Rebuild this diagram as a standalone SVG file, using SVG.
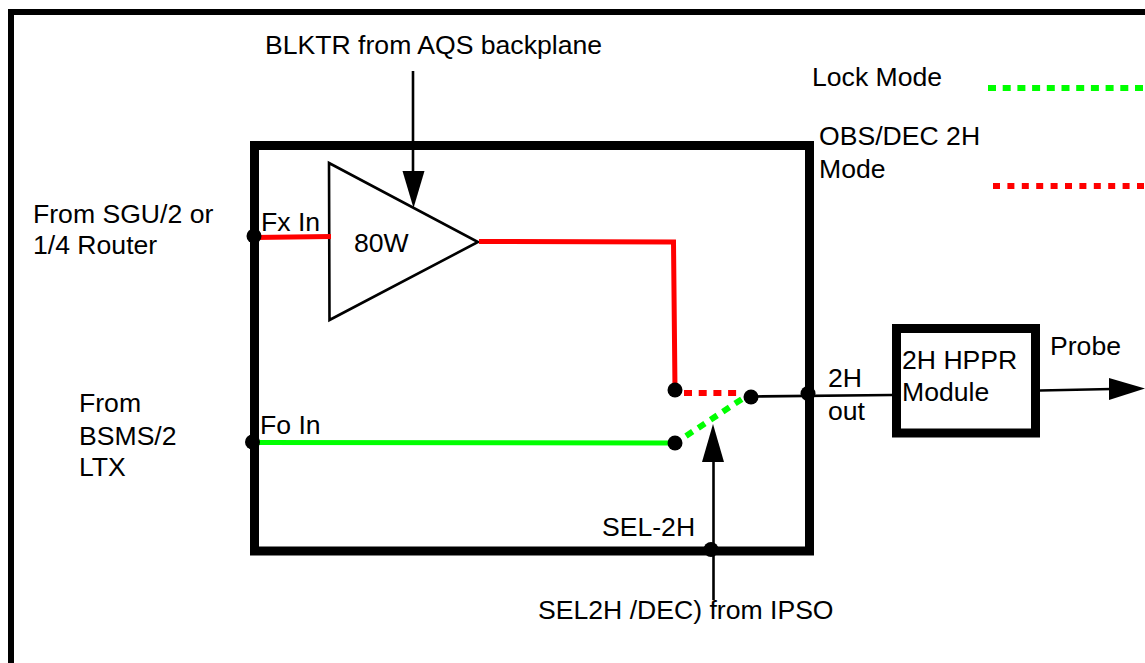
<svg xmlns="http://www.w3.org/2000/svg" width="1145" height="663" viewBox="0 0 1145 663">
<style>
text{font-family:"Liberation Sans",Arial,sans-serif;font-size:26.6px;fill:#000}
.frame{fill:none;stroke:#000;stroke-width:6}
.thick{fill:none;stroke:#000;stroke-width:9}
.thin{fill:none;stroke:#000;stroke-width:2.600}
.red{fill:none;stroke:#f00;stroke-width:5}
.green{fill:none;stroke:#0f0;stroke-width:5}
.dash{stroke-width:6;stroke-dasharray:8 6.700}
.dot{fill:#000}
.head{fill:#000}
</style>
<rect width="1145" height="663" fill="#fff"/>
<g id="frame"><path class="frame" d="M11 663V12H1145"/></g>
<g id="main-box"><rect class="thick" x="254.500" y="145.500" width="555" height="405.500"/></g>
<g id="amplifier"><path class="thin" fill="#fff" d="M329 163L478 242L329.500 320Z"/><text x="354" y="252">80W</text></g>
<g id="hppr-module"><rect class="thick" x="896.500" y="328.500" width="139" height="104.500"/><text x="902" y="369">2H HPPR</text><text x="902" y="401">Module</text></g>
<g id="connectors">
<path class="thin" d="M413 71V178"/><path class="head" d="M402.500 171H424.500L413.500 208Z"/>
<path class="red" d="M254 237.500L331 236.500"/>
<path class="red" d="M479 241.500L673.500 242L675 390"/>
<path class="green" d="M254 442.500L674 443"/>
<path class="red dash" d="M684 393H738"/>
<path class="green dash" d="M686 436L745 397"/>
<path class="thin" d="M751 396.500L892 395"/>
<path class="thin" d="M1040 390.500L1112 389"/>
<path class="head" d="M1109 378V400L1145 388.500Z"/>
<path class="thin" d="M713.500 600V455"/><path class="head" d="M702 462H724L713 424Z"/>
<path class="green dash" d="M988 88H1145"/>
<path class="red dash" style="stroke-dasharray:7 7.400" d="M993 186H1145"/>
<circle class="dot" cx="254" cy="236" r="7.500"/><circle class="dot" cx="252.500" cy="442" r="7.500"/>
<circle class="dot" cx="675" cy="390" r="7.500"/><circle class="dot" cx="675" cy="443" r="7.500"/>
<circle class="dot" cx="751" cy="397" r="7.500"/><circle class="dot" cx="808" cy="393.500" r="7.500"/>
<circle class="dot" cx="711" cy="549.500" r="7.500"/>
</g>
<g id="labels">
<text x="265" y="54">BLKTR from AQS backplane</text>
<text x="812" y="86">Lock Mode</text>
<text x="819" y="145">OBS/DEC 2H</text><text x="819" y="178">Mode</text>
<text x="33" y="223">From SGU/2 or</text><text x="33" y="254">1/4 Router</text>
<text x="261" y="231">Fx In</text><text x="260" y="434">Fo In</text>
<text x="79" y="412">From</text><text x="79" y="445">BSMS/2</text><text x="79" y="476">LTX</text>
<text x="828" y="387">2H</text><text x="828" y="420">out</text>
<text x="1050" y="355">Probe</text>
<text x="602" y="536">SEL-2H</text>
<text x="538" y="619">SEL2H /DEC) from IPSO</text>
</g>
</svg>
